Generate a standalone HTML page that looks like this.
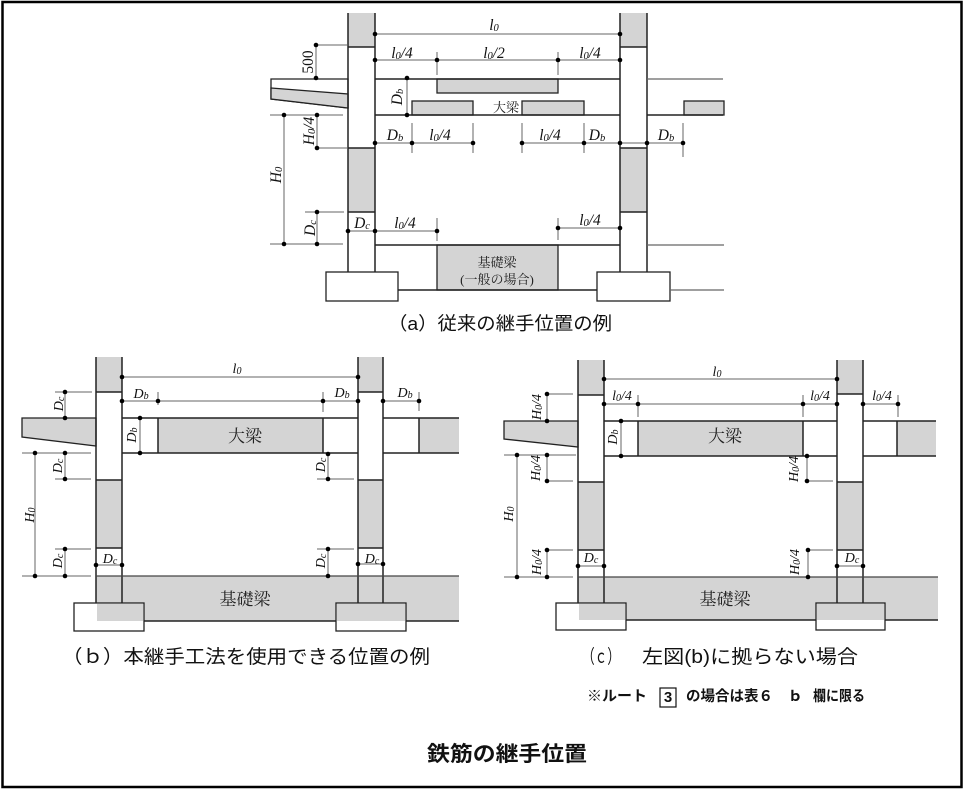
<!DOCTYPE html>
<html><head><meta charset="utf-8">
<style>
html,body{margin:0;padding:0;background:#fff;}
svg{display:block;}
.d{font-family:"Liberation Serif",serif;font-style:italic;font-size:15.5px;fill:#111;}
.d2{font-family:"Liberation Serif",serif;font-style:italic;font-size:14px;fill:#111;}
.s{font-size:10.5px;}
.d2 .s{font-size:10px;}
.jm{font-family:"Liberation Serif","Noto Serif CJK SC",serif;fill:#222;}
.cap{font-family:"Liberation Sans","Noto Sans CJK JP",sans-serif;fill:#111;}
</style></head>
<body>
<svg width="965" height="790" viewBox="0 0 965 790" xmlns="http://www.w3.org/2000/svg">
<rect x="0" y="0" width="965" height="790" fill="#fff"/>
<rect x="2.5" y="2" width="959" height="785" fill="none" stroke="#000" stroke-width="2.5"/>

<!-- ================= (a) ================= -->
<g fill="#d4d4d4">
<rect x="348" y="13" width="27" height="34"/>
<rect x="348" y="148" width="27" height="64"/>
<rect x="620" y="13" width="27" height="34"/>
<rect x="620" y="148" width="27" height="64"/>
</g>
<g fill="#d4d4d4" stroke="#222" stroke-width="1.3">
<rect x="437" y="79" width="121" height="14"/>
<rect x="412" y="101" width="61" height="14"/>
<rect x="522" y="101" width="62" height="14"/>
<rect x="684" y="101" width="40" height="14"/>
<rect x="437" y="245" width="121" height="45"/>
</g>
<polygon points="271,79 348,79 348,108 271,99" fill="#fff" stroke="#222" stroke-width="1.3"/>
<polygon points="271,88 348,94 348,108 271,99" fill="#d4d4d4" stroke="#222" stroke-width="1.3"/>
<rect x="326" y="272" width="72" height="29" fill="#fff" stroke="#222" stroke-width="1.3"/>
<rect x="597" y="272" width="73" height="29" fill="#fff" stroke="#222" stroke-width="1.3"/>
<path d="M348 13V272M375 13V272M620 13V272M647 13V272M348 47H375M348 148H375M348 212H375M620 47H647M620 148H647M620 212H647M375 79H620M375 115H620M375 245H620M398 290H597M647 115H723" stroke="#222" stroke-width="1.5" fill="none"/>
<path d="M647 79H723M647 245H724M670 290H724" stroke="#666" stroke-width="1.2" fill="none"/>
<path d="M375 34H620M375 60H620M437 52V75M558 52V75M316 45V79M316 45H347M407 79V115M317 115V148M270 115H343M317 148H347M284 115V244M317 212V244M305 212H344M270 244H343M348 231H437M437 218V241M558 228H620M558 218V240M375 143H473M412 123V153M473 123V153M522 143H683M522 123V153M584 123V153M683 123V157" stroke="#666" stroke-width="1" fill="none"/>
<g fill="#000">
<circle cx="375" cy="34" r="2.3"/><circle cx="620" cy="34" r="2.3"/>
<circle cx="375" cy="60" r="2.3"/><circle cx="437" cy="60" r="2.3"/><circle cx="558" cy="60" r="2.3"/><circle cx="620" cy="60" r="2.3"/>
<circle cx="316" cy="45" r="2.3"/><circle cx="316" cy="78" r="2.3"/>
<circle cx="407" cy="78" r="2.3"/><circle cx="407" cy="115" r="2.3"/>
<circle cx="284" cy="115" r="2.3"/><circle cx="317" cy="115" r="2.3"/><circle cx="317" cy="148" r="2.3"/>
<circle cx="284" cy="244" r="2.3"/><circle cx="317" cy="212" r="2.3"/><circle cx="317" cy="244" r="2.3"/>
<circle cx="348" cy="231" r="2.3"/><circle cx="375" cy="231" r="2.3"/><circle cx="437" cy="231" r="2.3"/>
<circle cx="558" cy="228" r="2.3"/><circle cx="620" cy="228" r="2.3"/>
<circle cx="375" cy="143" r="2.3"/><circle cx="412" cy="143" r="2.3"/><circle cx="473" cy="143" r="2.3"/>
<circle cx="522" cy="143" r="2.3"/><circle cx="584" cy="143" r="2.3"/><circle cx="620" cy="143" r="2.3"/><circle cx="647" cy="143" r="2.3"/><circle cx="683" cy="143" r="2.3"/>
</g>
<g class="d" text-anchor="middle">
<text x="494" y="30">l<tspan class="s" dy="1">0</tspan></text>
<text x="402" y="58">l<tspan class="s" dy="1">0</tspan><tspan dy="-1">/4</tspan></text>
<text x="494" y="58">l<tspan class="s" dy="1">0</tspan><tspan dy="-1">/2</tspan></text>
<text x="590" y="58">l<tspan class="s" dy="1">0</tspan><tspan dy="-1">/4</tspan></text>
<text x="395" y="140">D<tspan class="s" dy="1">b</tspan></text>
<text x="440" y="140">l<tspan class="s" dy="1">0</tspan><tspan dy="-1">/4</tspan></text>
<text x="550" y="140">l<tspan class="s" dy="1">0</tspan><tspan dy="-1">/4</tspan></text>
<text x="597" y="140">D<tspan class="s" dy="1">b</tspan></text>
<text x="666" y="140">D<tspan class="s" dy="1">b</tspan></text>
<text x="362" y="228">D<tspan class="s" dy="1">c</tspan></text>
<text x="405" y="228">l<tspan class="s" dy="1">0</tspan><tspan dy="-1">/4</tspan></text>
<text x="590" y="225">l<tspan class="s" dy="1">0</tspan><tspan dy="-1">/4</tspan></text>
<text transform="translate(308 62) rotate(-90)" y="5" style="font-style:normal">500</text>
<text transform="translate(397 97) rotate(-90)" y="5">D<tspan class="s" dy="1">b</tspan></text>
<text transform="translate(309 131) rotate(-90)" y="5">H<tspan class="s" dy="1">0</tspan><tspan dy="-1">/4</tspan></text>
<text transform="translate(276 175) rotate(-90)" y="5">H<tspan class="s" dy="1">0</tspan></text>
<text transform="translate(310 228) rotate(-90)" y="5">D<tspan class="s" dy="1">c</tspan></text>
</g>
<text class="jm" x="506" y="112" font-size="13" text-anchor="middle">大梁</text>
<text class="jm" x="497" y="267" font-size="13" text-anchor="middle">基礎梁</text>
<text class="jm" x="497" y="284" font-size="13" text-anchor="middle">(一般の場合)</text>
<text class="cap" x="388" y="330" font-size="18.5" textLength="224" lengthAdjust="spacingAndGlyphs">（a）従来の継手位置の例</text>

<!-- ================= (b) ================= -->
<g fill="#d4d4d4">
<rect x="96" y="357" width="26" height="35"/>
<rect x="96" y="480" width="26" height="68"/>
<rect x="358" y="357" width="25" height="35"/>
<rect x="358" y="480" width="25" height="68"/>
<rect x="96" y="576" width="363" height="45"/>
<rect x="158" y="418" width="165" height="35"/>
<rect x="419" y="418" width="40" height="35"/>
</g>
<polygon points="22,418 96,418 96,446 22,437" fill="#d4d4d4" stroke="#222" stroke-width="1.3"/>
<rect x="74" y="603" width="70" height="28" fill="#fff" stroke="#222" stroke-width="1.3"/>
<rect x="97" y="604" width="46" height="17" fill="#d4d4d4"/>
<rect x="336" y="603" width="70" height="28" fill="#fff" stroke="#222" stroke-width="1.3"/>
<rect x="337" y="604" width="68" height="17" fill="#d4d4d4"/>
<path d="M96 357V603M122 357V603M358 357V603M383 357V603M96 392H122M96 480H122M96 548H122M358 392H383M358 480H383M358 548H383M122 418H358M122 453H358M383 418H459M383 453H459M158 418V453M323 418V453M419 418V453M144 621H336M406 621H459" stroke="#222" stroke-width="1.5" fill="none"/>
<path d="M96 576H459" stroke="#444" stroke-width="1.3" fill="none"/>
<path d="M122 377H358M122 401H358M383 401H419M158 392V405M323 392V412M419 392V411M140 418V453M65 392V418M55 392H92M22 453H91M35 453V576M65 453V479M55 479H91M65 549V576M55 549H91M22 576H91M96 565H122M358 564H383M328 454V479M317 479H354M328 549V576M317 549H354" stroke="#666" stroke-width="1" fill="none"/>
<g fill="#000">
<circle cx="122" cy="377" r="2.3"/><circle cx="358" cy="377" r="2.3"/>
<circle cx="122" cy="401" r="2.3"/><circle cx="158" cy="401" r="2.3"/><circle cx="323" cy="401" r="2.3"/><circle cx="358" cy="401" r="2.3"/><circle cx="383" cy="401" r="2.3"/><circle cx="419" cy="401" r="2.3"/>
<circle cx="140" cy="418" r="2.3"/><circle cx="140" cy="453" r="2.3"/>
<circle cx="65" cy="392" r="2.3"/><circle cx="65" cy="418" r="2.3"/>
<circle cx="35" cy="453" r="2.3"/><circle cx="65" cy="453" r="2.3"/><circle cx="65" cy="479" r="2.3"/>
<circle cx="35" cy="576" r="2.3"/><circle cx="65" cy="549" r="2.3"/><circle cx="65" cy="576" r="2.3"/>
<circle cx="96" cy="565" r="2.3"/><circle cx="122" cy="565" r="2.3"/>
<circle cx="358" cy="564" r="2.3"/><circle cx="383" cy="564" r="2.3"/>
<circle cx="328" cy="454" r="2.3"/><circle cx="328" cy="479" r="2.3"/>
<circle cx="328" cy="549" r="2.3"/><circle cx="328" cy="576" r="2.3"/>
</g>
<g class="d2" text-anchor="middle">
<text x="237" y="373">l<tspan class="s" dy="1">0</tspan></text>
<text x="141" y="398">D<tspan class="s" dy="1">b</tspan></text>
<text x="342" y="397">D<tspan class="s" dy="1">b</tspan></text>
<text x="405" y="397">D<tspan class="s" dy="1">b</tspan></text>
<text x="110" y="563">D<tspan class="s" dy="1">c</tspan></text>
<text x="372" y="563">D<tspan class="s" dy="1">c</tspan></text>
<text transform="translate(59 404) rotate(-90)" y="4">D<tspan class="s" dy="1">c</tspan></text>
<text transform="translate(132 435) rotate(-90)" y="4">D<tspan class="s" dy="1">b</tspan></text>
<text transform="translate(58 466) rotate(-90)" y="4">D<tspan class="s" dy="1">c</tspan></text>
<text transform="translate(30 515) rotate(-90)" y="4">H<tspan class="s" dy="1">0</tspan></text>
<text transform="translate(58 561) rotate(-90)" y="4">D<tspan class="s" dy="1">c</tspan></text>
<text transform="translate(321 465) rotate(-90)" y="4">D<tspan class="s" dy="1">c</tspan></text>
<text transform="translate(321 561) rotate(-90)" y="4">D<tspan class="s" dy="1">c</tspan></text>
</g>
<text class="jm" x="245" y="442" font-size="17" text-anchor="middle">大梁</text>
<text class="jm" x="245" y="605" font-size="17" text-anchor="middle">基礎梁</text>
<text class="cap" x="62" y="663" font-size="19" textLength="368" lengthAdjust="spacingAndGlyphs">（ｂ）本継手工法を使用できる位置の例</text>

<!-- ================= (c) ================= -->
<g fill="#d4d4d4">
<rect x="578" y="360" width="26" height="35"/>
<rect x="578" y="482" width="26" height="68"/>
<rect x="837" y="360" width="26" height="34"/>
<rect x="837" y="482" width="26" height="68"/>
<rect x="578" y="577" width="360" height="43"/>
<rect x="638" y="421" width="165" height="35"/>
<rect x="897" y="421" width="39" height="35"/>
</g>
<polygon points="504,421 578,421 578,447 504,439" fill="#d4d4d4" stroke="#222" stroke-width="1.3"/>
<rect x="556" y="603" width="70" height="27" fill="#fff" stroke="#222" stroke-width="1.3"/>
<rect x="579" y="604" width="46" height="16" fill="#d4d4d4"/>
<rect x="816" y="603" width="69" height="27" fill="#fff" stroke="#222" stroke-width="1.3"/>
<rect x="817" y="604" width="67" height="16" fill="#d4d4d4"/>
<path d="M578 360V603M604 360V603M837 360V603M863 360V603M578 395H604M578 482H604M578 550H604M837 394H863M837 482H863M837 550H863M604 421H837M604 456H837M863 421H936M863 456H936M638 421V456M803 421V456M897 421V456M626 620H816M885 620H938" stroke="#222" stroke-width="1.5" fill="none"/>
<path d="M578 577H938" stroke="#444" stroke-width="1.3" fill="none"/>
<path d="M604 379H837M604 404H837M863 404H898M638 395V417M803 395V417M898 395V417M621 421V456M547 394V421M547 394H573M504 455H576M517 455V577M547 455V481M547 481H573M547 550V577M547 550H573M504 577H573M578 566H604M837 566H863M807 456V481M807 481H833M808 550V577M808 550H833" stroke="#666" stroke-width="1" fill="none"/>
<g fill="#000">
<circle cx="604" cy="379" r="2.3"/><circle cx="837" cy="379" r="2.3"/>
<circle cx="604" cy="404" r="2.3"/><circle cx="638" cy="404" r="2.3"/><circle cx="803" cy="404" r="2.3"/><circle cx="837" cy="404" r="2.3"/><circle cx="863" cy="404" r="2.3"/><circle cx="898" cy="404" r="2.3"/>
<circle cx="621" cy="421" r="2.3"/><circle cx="621" cy="456" r="2.3"/>
<circle cx="547" cy="394" r="2.3"/><circle cx="547" cy="421" r="2.3"/>
<circle cx="517" cy="455" r="2.3"/><circle cx="547" cy="455" r="2.3"/><circle cx="547" cy="481" r="2.3"/>
<circle cx="517" cy="577" r="2.3"/><circle cx="547" cy="550" r="2.3"/><circle cx="547" cy="577" r="2.3"/>
<circle cx="578" cy="566" r="2.3"/><circle cx="604" cy="566" r="2.3"/>
<circle cx="837" cy="566" r="2.3"/><circle cx="863" cy="566" r="2.3"/>
<circle cx="807" cy="456" r="2.3"/><circle cx="807" cy="481" r="2.3"/>
<circle cx="808" cy="550" r="2.3"/><circle cx="808" cy="577" r="2.3"/>
</g>
<g class="d2" text-anchor="middle">
<text x="717" y="376">l<tspan class="s" dy="1">0</tspan></text>
<text x="622" y="400">l<tspan class="s" dy="1">0</tspan><tspan dy="-1">/4</tspan></text>
<text x="820" y="400">l<tspan class="s" dy="1">0</tspan><tspan dy="-1">/4</tspan></text>
<text x="882" y="400">l<tspan class="s" dy="1">0</tspan><tspan dy="-1">/4</tspan></text>
<text x="591" y="562">D<tspan class="s" dy="1">c</tspan></text>
<text x="852" y="562">D<tspan class="s" dy="1">c</tspan></text>
<text transform="translate(537 407) rotate(-90)" y="4">H<tspan class="s" dy="1">0</tspan><tspan dy="-1">/4</tspan></text>
<text transform="translate(613 437) rotate(-90)" y="4">D<tspan class="s" dy="1">b</tspan></text>
<text transform="translate(536 468) rotate(-90)" y="4">H<tspan class="s" dy="1">0</tspan><tspan dy="-1">/4</tspan></text>
<text transform="translate(509 514) rotate(-90)" y="4">H<tspan class="s" dy="1">0</tspan></text>
<text transform="translate(537 562) rotate(-90)" y="4">H<tspan class="s" dy="1">0</tspan><tspan dy="-1">/4</tspan></text>
<text transform="translate(794 469) rotate(-90)" y="4">H<tspan class="s" dy="1">0</tspan><tspan dy="-1">/4</tspan></text>
<text transform="translate(795 562) rotate(-90)" y="4">H<tspan class="s" dy="1">0</tspan><tspan dy="-1">/4</tspan></text>
</g>
<text class="jm" x="725" y="442" font-size="17" text-anchor="middle">大梁</text>
<text class="jm" x="725" y="605" font-size="17" text-anchor="middle">基礎梁</text>
<text class="cap" x="582" y="663" font-size="19" textLength="38" lengthAdjust="spacingAndGlyphs">（ｃ）</text>
<text class="cap" x="642" y="663" font-size="19" textLength="216" lengthAdjust="spacingAndGlyphs">左図(b)に拠らない場合</text>

<!-- note -->
<g class="cap" font-weight="bold" font-size="14.5">
<text x="587" y="701" textLength="60" lengthAdjust="spacingAndGlyphs">※ルート</text>
<text x="668" y="702" text-anchor="middle" font-size="15">3</text>
<text x="686" y="701" textLength="87" lengthAdjust="spacingAndGlyphs">の場合は表６</text>
<text x="788" y="701">ｂ</text>
<text x="813" y="701" textLength="52" lengthAdjust="spacingAndGlyphs">欄に限る</text>
</g>
<rect x="660" y="688" width="16" height="19" fill="none" stroke="#111" stroke-width="1.2"/>

<!-- title -->
<text class="cap" x="427" y="761" font-size="21" font-weight="bold" textLength="160" lengthAdjust="spacingAndGlyphs">鉄筋の継手位置</text>
</svg>
</body></html>
